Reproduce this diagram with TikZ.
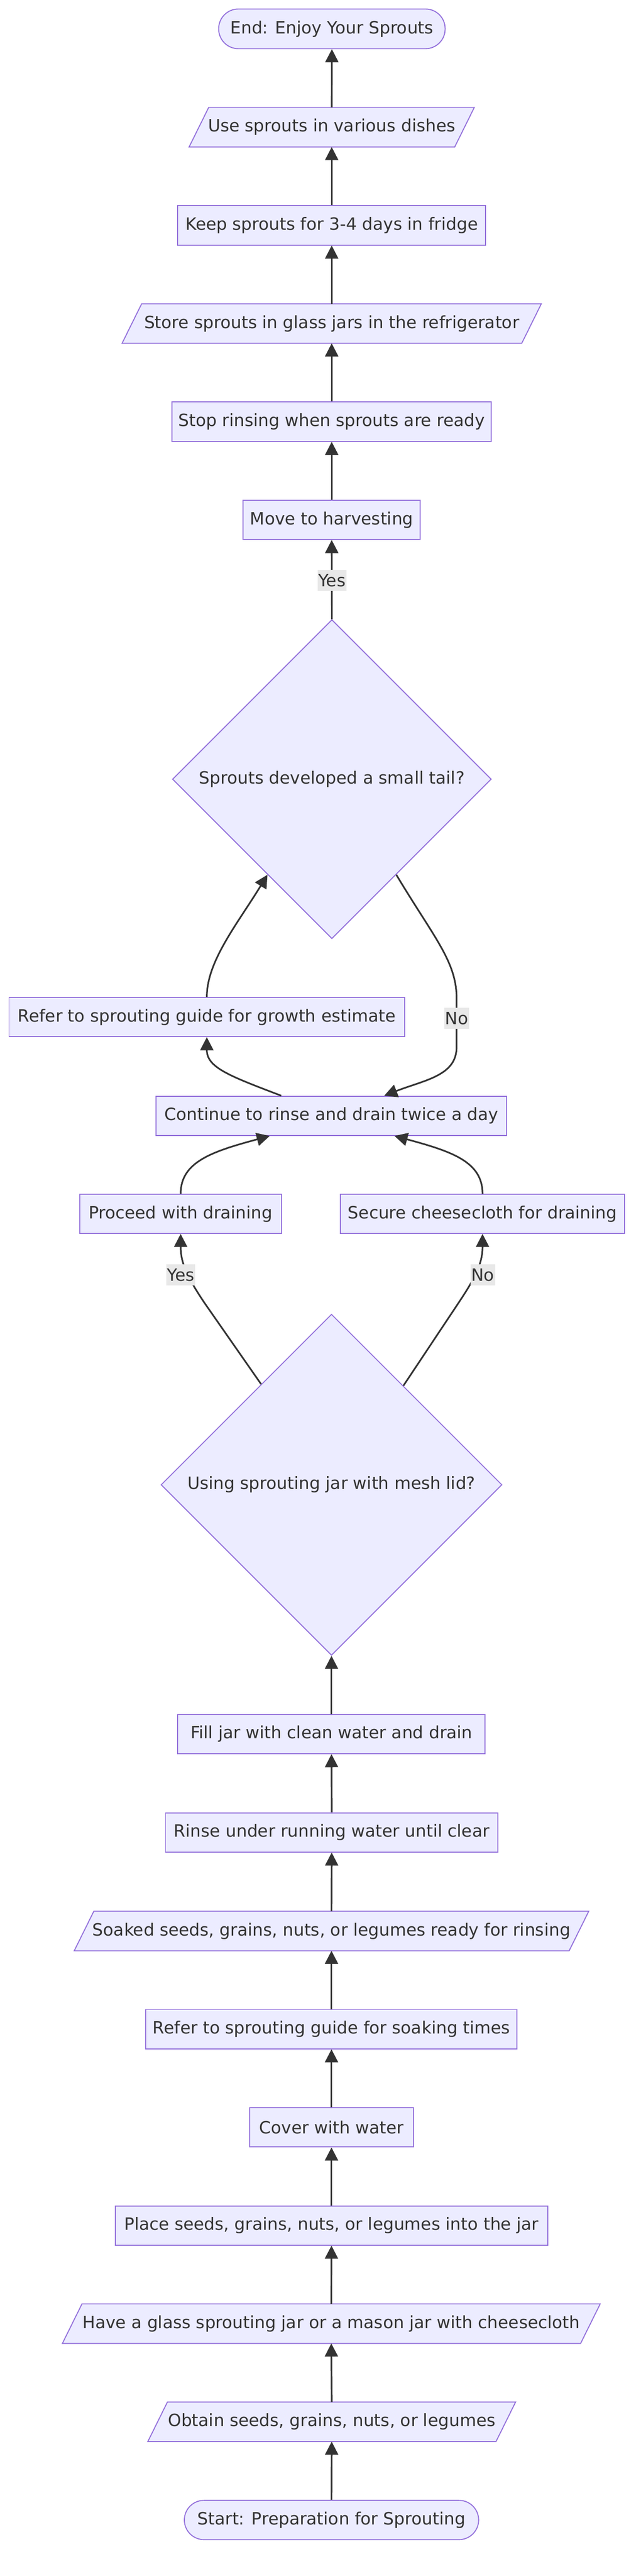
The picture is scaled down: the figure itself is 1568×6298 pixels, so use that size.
\documentclass[tikz,border=0pt]{standalone}
\usepackage{fontspec}
\setmainfont{DejaVu Sans}
\usetikzlibrary{arrows.meta,shapes.geometric,calc}
\pgfdeclarelayer{background}
\pgfsetlayers{background,main}
\definecolor{nodefill}{HTML}{ECECFF}
\definecolor{nodestroke}{HTML}{9370DB}
\definecolor{textc}{HTML}{333333}
\definecolor{edgec}{HTML}{333333}
\definecolor{labelbg}{HTML}{E8E8E8}
\tikzset{
 basefont/.style={font=\fontsize{20.7pt}{25pt}\selectfont, text=textc},
 procbox/.style={basefont, rectangle, draw=nodestroke, fill=nodefill, line width=1.2pt, minimum height=48pt, inner sep=0pt},
 termbox/.style={procbox, rounded corners=24pt},
 paratext/.style={basefont, rectangle, minimum height=48pt, inner sep=0pt},
 parashape/.style={draw=nodestroke, fill=nodefill, line width=1.2pt},
 decbox/.style={basefont, diamond, aspect=1, draw=nodestroke, fill=nodefill, line width=1.2pt, inner sep=0pt},
 conn/.style={draw=edgec, line width=2pt, -{Triangle[length=16pt,width=16pt]}},
 elabel/.style={basefont, fill=labelbg, inner xsep=1pt, inner ysep=0pt, minimum height=26pt},
}
\newcommand{\paranode}[5]{%
  \node[paratext, minimum width=#4] (#1) at (#2,#3) {#5};
  \begin{pgfonlayer}{background}
    \draw[parashape] ($(#1.north west)+(24pt,0pt)$) -- (#1.north east) -- ($(#1.south east)+(-24pt,0pt)$) -- (#1.south west) -- cycle;
  \end{pgfonlayer}}
\begin{document}
\begin{tikzpicture}[x=0.5pt,y=-0.5pt]
\begin{pgfonlayer}{background}
\fill[white] (0,0) rectangle (1568,6298);
\end{pgfonlayer}
\useasboundingbox (0,0) rectangle (1568,6298);

% nodes
\node[termbox, minimum width=277pt, minimum height=48.5pt] (end) at (812,70.5) {End: Enjoy Your Sprouts};
\paranode{use}{811.5}{311}{348.5pt}{Use sprouts in various dishes}
\node[procbox, minimum width=376.5pt] (keep) at (811.5,551) {Keep sprouts for 3-4 days in fridge};
\paranode{store}{811.5}{791}{512.5pt}{Store sprouts in glass jars in the refrigerator}
\node[procbox, minimum width=390.5pt] (stop) at (811.5,1031) {Stop rinsing when sprouts are ready};
\node[procbox, minimum width=216.5pt] (move) at (811.5,1271) {Move to harvesting};
\node[decbox, minimum width=390pt, minimum height=390pt] (d1) at (812,1905) {Sprouts developed a small tail?};
\node[procbox, minimum width=484pt] (rg) at (506,2486.5) {Refer to sprouting guide for growth estimate};
\node[procbox, minimum width=429pt] (cont) at (811,2728) {Continue to rinse and drain twice a day};
\node[procbox, minimum width=247pt] (pr) at (442,2967.5) {Proceed with draining};
\node[procbox, minimum width=347.5pt] (sc) at (1180.5,2967.5) {Secure cheesecloth for draining};
\node[decbox, minimum width=417pt, minimum height=417pt] (d2) at (811,3630) {Using sprouting jar with mesh lid?};
\node[procbox, minimum width=376pt] (fill) at (811,4239.5) {Fill jar with clean water and drain};
\node[procbox, minimum width=406.5pt] (rinse) at (811.5,4480) {Rinse under running water until clear};
\paranode{soaked}{811}{4721}{629pt}{Soaked seeds, grains, nuts, or legumes ready for rinsing}
\node[procbox, minimum width=454pt] (rs) at (811,4961) {Refer to sprouting guide for soaking times};
\node[procbox, minimum width=200pt] (cover) at (811,5201) {Cover with water};
\node[procbox, minimum width=529pt] (place) at (811,5441) {Place seeds, grains, nuts, or legumes into the jar};
\paranode{have}{810.5}{5681}{657.5pt}{Have a glass sprouting jar or a mason jar with cheesecloth}
\paranode{obtain}{811.5}{5921}{449.5pt}{Obtain seeds, grains, nuts, or legumes}
\node[termbox, minimum width=360pt] (start) at (811,6161) {Start: Preparation for Sprouting};

% straight connectors
\draw[conn] (start.north) -- (obtain.south);
\draw[conn] (obtain.north) -- (have.south);
\draw[conn] (have.north) -- (place.south);
\draw[conn] (place.north) -- (cover.south);
\draw[conn] (cover.north) -- (rs.south);
\draw[conn] (rs.north) -- (soaked.south);
\draw[conn] (soaked.north) -- (rinse.south);
\draw[conn] (rinse.north) -- (fill.south);
\draw[conn] (fill.north) -- (d2.south);
\draw[conn] (d1.north) -- (move.south);
\draw[conn] (move.north) -- (stop.south);
\draw[conn] (stop.north) -- (store.south);
\draw[conn] (store.north) -- (keep.south);
\draw[conn] (keep.north) -- (use.south);
\draw[conn] (use.north) -- (end.south);

% curved connectors
\draw[conn] (d2.125.5) -- (500,3185) .. controls (460,3125) and (442,3090) .. (pr.south);
\draw[conn] (d2.54.5) -- (1122,3185) .. controls (1162,3125) and (1180.5,3090) .. (sc.south);
\draw[conn] (pr.north) .. controls (442,2840) and (520,2815) .. ($(cont.south)+(-151,0)$);
\draw[conn] (sc.north) .. controls (1180.5,2840) and (1105,2815) .. ($(cont.south)+(154,0)$);
\draw[conn] ($(cont.north)+(-123,0)$) .. controls (560,2630) and (506,2610) .. (rg.south);
\draw[conn] (rg.north) .. controls (506,2350) and (580,2260) .. (d1.236);
\draw[conn] (d1.-56) .. controls (1060,2290) and (1117,2350) .. (1117,2440) -- (1117,2560) .. controls (1117,2630) and (1040,2640) .. ($(cont.north)+(129,0)$);

% labels
\node[elabel] (l1) at (812,1419) {Yes};
\node[elabel] (l2) at (1117,2490) {No};
\node[elabel] (l3) at (442,3117) {Yes};
\node[elabel] (l4) at (1181,3117) {No};
\end{tikzpicture}
\end{document}
